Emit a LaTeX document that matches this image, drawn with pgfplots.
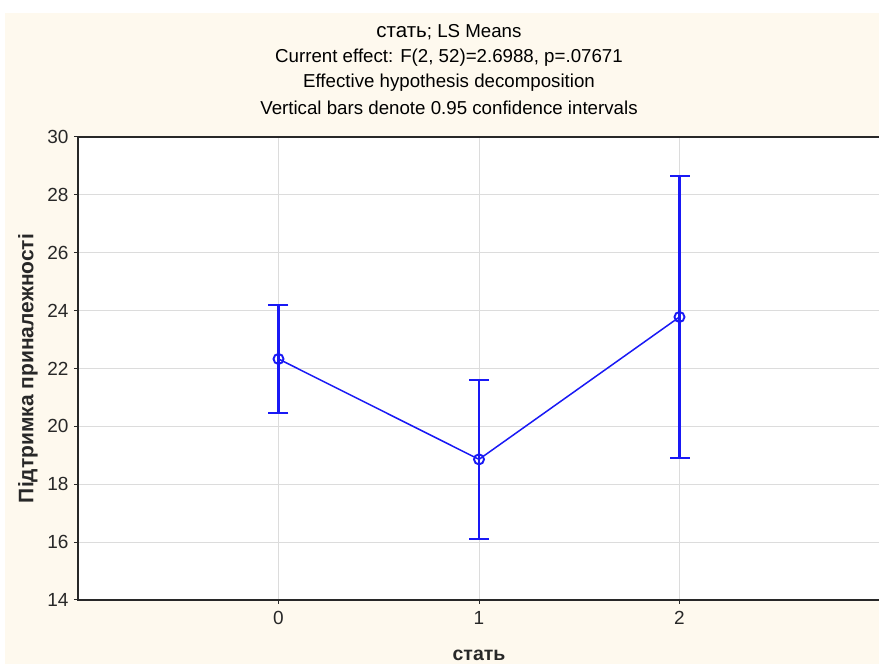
\documentclass[border=0pt]{standalone}
\usepackage{fontspec}
\setmainfont{Liberation Sans}
\usepackage{pgfplots}
\pgfplotsset{compat=1.18}
\definecolor{cream}{RGB}{254,249,238}
\definecolor{pblue}{RGB}{25,25,245}
\definecolor{gridgray}{RGB}{220,220,220}
\definecolor{axgray}{RGB}{40,40,40}
\begin{document}
\begin{tikzpicture}[x=1pt,y=1pt]
\useasboundingbox (0,0) rectangle (879,664);
\fill[cream] (5,0) rectangle (879,651);
\node[font=\fontsize{18.7}{22}\selectfont] at (449,632) {{\fontsize{20.5}{22}\selectfont стать}; LS Means};
\node[font=\fontsize{18.7}{22}\selectfont] at (449,606) {Current effect: F(2, 52)=2.6988, p=.07671};
\node[font=\fontsize{18.7}{22}\selectfont] at (449,581) {Effective hypothesis decomposition};
\node[font=\fontsize{18.7}{22}\selectfont] at (449,556) {Vertical bars denote 0.95 confidence intervals};
\begin{axis}[
  at={(78pt,64pt)}, anchor=south west,
  scale only axis, width=802pt, height=463pt,
  xmin=-1, xmax=3, ymin=14, ymax=30,
  xtick={0,1,2}, ytick={14,16,...,30},
  /pgf/number format/assume math mode=true,
  tick label style={font=\fontsize{19}{21}\selectfont, text=axgray},
  tick align=outside, major tick length=4pt,
  tick style={axgray, line width=1pt},
  xtick pos=bottom, ytick pos=left,
  grid=major, major grid style={gridgray, line width=1pt},
  axis line style={axgray, line width=1.3pt},
  axis background/.style={fill=white},
  xlabel={стать},
  ylabel={Підтримка приналежності},
  label style={font=\bfseries\fontsize{19.5}{22}\selectfont, text=axgray},
  ylabel style={font=\bfseries\fontsize{21}{24}\selectfont, at={(axis description cs:-0.0624,0.5)}, anchor=center},
  xlabel style={at={(axis description cs:0.5,-0.1188)}, anchor=center},
  yticklabel style={xshift=-2pt},
  xticklabel style={yshift=-4pt},
]
% confidence intervals (lower, upper)
\addplot[pblue, line width=2.2pt, mark=-, mark size=10pt, mark options={solid, line width=1.7pt}] coordinates {(0,20.47) (0,24.19)};
\addplot[pblue, line width=2.2pt, mark=-, mark size=10pt, mark options={solid, line width=1.7pt}] coordinates {(1,16.12) (1,21.60)};
\addplot[pblue, line width=2.2pt, mark=-, mark size=10pt, mark options={solid, line width=1.7pt}] coordinates {(2,18.91) (2,28.65)};
% means
\addplot[pblue, line width=1.5pt, mark=o, mark size=5pt,
  mark options={line width=1.9pt, fill=none}]
coordinates {
  (0,22.33)
  (1,18.86)
  (2,23.78)
};
\end{axis}
\end{tikzpicture}
\end{document}
